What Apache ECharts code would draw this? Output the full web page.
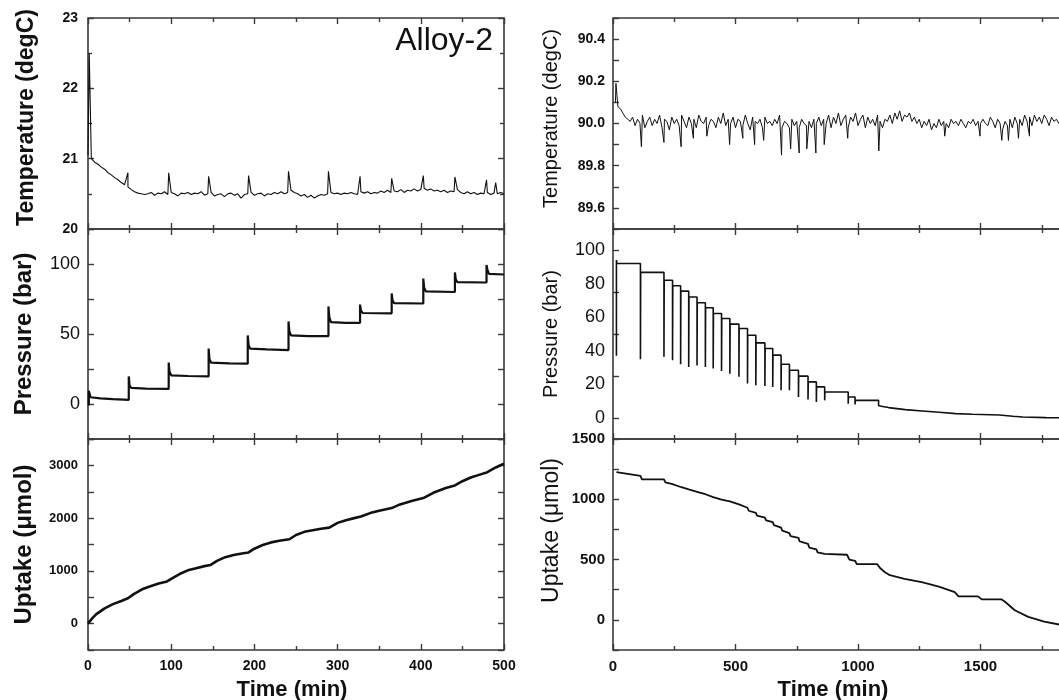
<!DOCTYPE html>
<html>
<head>
<meta charset="utf-8">
<script src="https://cdn.jsdelivr.net/npm/echarts@6/dist/echarts.min.js"></script>
<style>html,body{margin:0;padding:0;background:#fff}#c{width:1059px;height:700px}</style>
</head>
<body>
<div id="c"></div>
<script>
// ---------- DATA ----------
// Left (Alloy-2, absorption, 0-500 min)
const leftTempStep = 4; // min between samples
const leftTempValues = [
21.05,21.0,20.95,20.92,20.88,20.85,20.8,20.77,20.73,20.7,
20.66,20.63,20.6,20.56,20.53,20.51,20.5,20.49,20.5,20.52,
20.48,20.51,20.5,20.53,20.49,20.52,20.5,20.47,20.51,20.5,
20.52,20.49,20.51,20.5,20.53,20.48,20.5,20.52,20.47,20.49,
20.5,20.46,20.5,20.51,20.48,20.5,20.44,20.49,20.5,20.52,
20.48,20.5,20.51,20.47,20.5,20.49,20.52,20.5,20.53,20.5,
20.52,20.55,20.52,20.5,20.47,20.49,20.45,20.48,20.44,20.47,
20.49,20.48,20.5,20.52,20.5,20.51,20.49,20.51,20.5,20.52,
20.5,20.49,20.53,20.51,20.53,20.5,20.52,20.51,20.54,20.52,
20.55,20.52,20.54,20.53,20.56,20.52,20.55,20.54,20.57,20.54,
20.56,20.58,20.55,20.57,20.54,20.55,20.53,20.55,20.52,20.54,
20.53,20.56,20.52,20.5,20.53,20.5,20.52,20.49,20.51,20.5,
20.52,20.49,20.51,20.5,20.52,20.5
];
const leftTempSpikes = [[1.5,22.5],[48,20.8],[97,20.8],[145,20.75],[193,20.76],[241,20.82],[289,20.82],[327,20.75],[365,20.72],[403,20.76],[441,20.74],[479,20.7],[490,20.66]];
const leftPressure = [[1,-1],[1,9.5],[3,4.8],[15,4],[30,3.5],[49,3],[49,19.7],[50,13],[52,11.5],[70,11],[97,10.8],[97,29.6],[98,23],[100,20.5],[120,20],[145,19.8],[145,39.6],[146,32],[148,29.5],[170,29],[192,28.8],[192,49],[193,42],[195,39.5],[215,39],[241,38.5],[241,59],[242,52],[244,49],[265,48.5],[289,48.5],[289,69.7],[290,62],[292,58.5],[310,58],[327,58],[327,71],[328,67],[330,65],[365,64.8],[365,79],[366,74],[368,72],[403,71.8],[403,89.6],[404,83],[406,80.5],[441,80],[441,94],[442,89],[444,87],[479,86.8],[479,99.3],[480,96],[482,93],[500,92.5]];
const leftUptake = [[0,0],[5,100],[10,180],[20,290],[30,370],[40,430],[48,480],[55,560],[65,650],[75,710],[85,760],[95,800],[100,850],[110,940],[120,1010],[130,1050],[140,1090],[147,1110],[155,1190],[165,1260],[175,1300],[185,1330],[193,1350],[200,1420],[210,1490],[220,1540],[230,1570],[242,1600],[250,1680],[260,1740],[270,1770],[280,1800],[290,1820],[300,1910],[310,1960],[320,2000],[328,2030],[340,2100],[350,2140],[365,2190],[375,2260],[390,2330],[403,2380],[415,2480],[430,2570],[441,2620],[450,2700],[460,2770],[470,2820],[480,2870],[490,2960],[500,3030]];

// Right (desorption, 0-~1850 min)
const rightTempStart = 10, rightTempStep = 10;
const rightTempValues = [
90.10,90.08,90.07,90.05,90.03,90.02,90.01,90.03,89.99,90.02,
90.0,90.04,89.98,90.01,90.03,89.99,90.02,90.0,90.04,89.98,
90.02,90.01,89.97,90.03,90.0,90.02,89.99,90.04,90.01,89.98,
90.03,90.0,90.02,89.98,90.04,90.01,90.0,90.03,89.99,90.02,
90.01,89.98,90.03,90.0,90.05,89.99,90.02,90.0,90.03,89.98,
90.02,90.01,89.99,90.04,90.0,89.97,90.03,90.01,90.0,90.02,
89.98,90.03,90.0,90.01,89.99,90.02,90.0,90.04,89.98,90.01,
90.0,89.98,90.02,89.99,90.01,89.98,90.02,90.0,89.99,90.01,
89.98,90.02,90.0,90.03,89.99,90.02,90.0,90.04,89.98,90.03,
90.0,90.05,89.99,90.02,90.04,89.98,90.03,90.01,90.05,89.99,
90.02,90.04,89.98,90.03,90.0,90.02,89.99,90.04,90.01,89.98,
90.02,90.01,90.04,90.0,90.05,90.02,90.06,90.01,90.04,90.03,
90.05,90.01,90.03,90.0,90.02,89.98,90.01,89.99,90.02,89.97,
90.0,89.98,90.02,89.99,90.01,90.0,89.98,90.02,90.0,90.01,
89.99,90.02,90.0,89.98,90.01,90.0,90.02,89.99,90.01,90.0,
90.02,90.0,89.99,90.03,90.01,89.98,90.02,90.0,89.97,90.01,
89.99,90.02,89.98,90.03,90.0,90.02,89.99,90.04,90.01,90.03,
89.99,90.04,90.01,90.03,90.0,90.04,90.02,89.99,90.03,90.01,
90.02,90.0,90.03,90.01,90.02
];
const rightTempSpikes = [[12,90.19],[116,89.89],[208,89.91],[278,89.89],[328,89.93],[383,89.94],[476,89.9],[530,89.93],[578,89.9],[615,89.92],[688,89.85],[725,89.88],[760,89.86],[791,89.88],[828,89.86],[862,89.9],[958,89.93],[1085,89.87],[1354,89.94],[1498,89.94],[1587,89.92],[1614,89.92],[1655,89.93],[1700,89.94]];
const rightPressure = [[14,37],[14,94],[16,92],[112,92],[112,35],[113,86.7],[208,86.7],[208,36.4],[209,82],[243,82],[243,34.4],[244,78.7],[276,78.7],[276,32],[277,75.5],[309,75.5],[309,30.4],[310,72],[343,72],[343,31.2],[344,68.6],[377,68.6],[377,30.4],[378,65.6],[409,65.6],[409,29.4],[410,62.2],[443,62.2],[443,28],[444,59.2],[477,59.2],[477,26.4],[478,55.9],[514,55.9],[514,24.5],[515,53.3],[549,53.3],[549,20.5],[550,49.3],[583,49.3],[583,19.5],[584,44.7],[620,44.7],[620,19],[621,41.4],[652,41.4],[652,18.5],[653,37.4],[686,37.4],[686,16.5],[687,32],[720,32],[720,16.5],[721,28.4],[757,28.4],[757,12.5],[758,24.9],[796,24.9],[796,11],[797,21.5],[830,21.5],[830,9.5],[831,18.5],[864,18.5],[864,10.5],[865,15.5],[960,15.5],[960,8.5],[961,12.5],[988,12.5],[988,8],[989,10.5],[1084,10.5],[1084,7.5],[1095,7],[1125,6.2],[1193,5],[1262,4.2],[1331,3.4],[1399,2.6],[1468,2.2],[1577,1.8],[1632,1],[1673,0.6],[1767,0.2],[1850,0.1]];
const rightUptake = [[14,1225],[20,1215],[112,1195],[118,1165],[208,1165],[214,1140],[243,1125],[248,1112],[276,1102],[281,1092],[309,1082],[314,1070],[343,1062],[348,1050],[377,1042],[382,1030],[409,1018],[414,1005],[443,998],[448,988],[477,982],[482,970],[514,958],[519,945],[549,930],[554,905],[583,888],[588,865],[620,848],[625,825],[652,810],[657,785],[686,765],[691,740],[720,720],[725,695],[757,680],[762,650],[796,630],[801,600],[830,585],[835,560],[864,548],[870,543],[955,540],[965,500],[988,490],[995,462],[1079,462],[1090,430],[1110,395],[1130,370],[1190,340],[1260,312],[1330,275],[1395,230],[1410,195],[1490,195],[1505,170],[1585,170],[1600,150],[1640,80],[1695,25],[1760,-15],[1850,-50]];

// tick labels
const leftTempLabels = [20,21,22,23];
const leftPressureLabels = [0,50,100];
const leftUptakeLabels = [0,1000,2000,3000];
const leftTimeLabels = [0,100,200,300,400,500];
const rightTempLabels = [89.6,89.8,90.0,90.2,90.4];
const rightPressureLabels = [0,20,40,60,80,100];
const rightPressureTicks = [0,25,50,75,100];
const rightUptakeLabels = [0,500,1000,1500];
const rightTimeLabels = [0,500,1000,1500];

// ---------- helpers ----------
function sampled(start, step, values) { return values.map((v, i) => [start + i * step, v]); }
function mergeSpikes(base, spikes) {
  const all = spikes.map(p => [p[0], p[1], 0]).concat(base.map(p => [p[0], p[1], 1]));
  all.sort((a, b) => a[0] - b[0] || a[2] - b[2]);
  return all.map(p => [p[0], p[1]]);
}
const FONT = 'Liberation Sans, Arial, sans-serif';
const INK = '#111';
const FRAME = '#3a3a3a';

const L = { left: 88, width: 416 };
const R = { left: 613, width: 490 };
const rows = [ { top: 18, height: 211 }, { top: 229, height: 210 }, { top: 439, height: 211 } ];

const grids = [], xAxes = [], yAxes = [], series = [];

function inSet(set, v) { return set.some(s => Math.abs(s - v) < 1e-6); }

function addPanel(col, row, cfg) {
  const gi = grids.length;
  grids.push({ left: col.left, width: col.width, top: rows[row].top, height: rows[row].height,
    show: true, borderColor: FRAME, borderWidth: 1.6, backgroundColor: 'transparent',
    containLabel: false, outerBoundsMode: 'none' });
  const tickStyle = { inside: true, length: 6, lineStyle: { color: FRAME, width: 1.4 } };
  const minor = cfg.xMinor ? { show: true, splitNumber: cfg.xMinor, length: 4, lineStyle: { color: FRAME, width: 1.4 } } : { show: false };
  const xBase = { type: 'value', gridIndex: gi, min: cfg.xMin, max: cfg.xMax, interval: cfg.xInterval,
    axisLine: { show: false, onZero: false }, splitLine: { show: false }, minorSplitLine: { show: false },
    axisTick: tickStyle, minorTick: minor };
  const xb = xAxes.length;
  xAxes.push(Object.assign({}, xBase, { position: 'bottom',
    axisLabel: cfg.showX ? { show: true, margin: 9, color: INK, fontFamily: FONT, fontWeight: 'bold', fontSize: cfg.xFont,
      formatter: v => inSet(cfg.xLabels, v) ? String(v) : '' } : { show: false },
    name: cfg.showX ? 'Time (min)' : '', nameLocation: 'middle', nameGap: 29,
    nameTextStyle: { color: INK, fontFamily: FONT, fontWeight: 'bold', fontSize: 22, padding: cfg.namePad || 0 } }));
  xAxes.push(Object.assign({}, xBase, { position: 'top', axisLabel: { show: false } }));

  const yTick = Object.assign({}, tickStyle, cfg.yTickValues ? { customValues: cfg.yTickValues } : {});
  const yMinor = cfg.yMinor ? { show: true, splitNumber: cfg.yMinor, length: 4, lineStyle: { color: FRAME, width: 1.4 } } : { show: false };
  const yBase = { type: 'value', gridIndex: gi, min: cfg.yMin, max: cfg.yMax,
    axisLine: { show: false, onZero: false }, splitLine: { show: false }, minorSplitLine: { show: false },
    axisTick: yTick, minorTick: yMinor };
  if (cfg.yInterval) yBase.interval = cfg.yInterval;
  const yl = yAxes.length;
  const lab = { show: true, margin: cfg.yLabelMargin, color: INK, fontFamily: FONT, fontWeight: cfg.yLabelBold ? 'bold' : 'normal', fontSize: cfg.yLabelFont };
  if (cfg.yLabelCustom) { lab.customValues = cfg.yLabels; lab.formatter = cfg.yFmt || (v => String(v)); }
  else lab.formatter = v => inSet(cfg.yLabels, v) ? (cfg.yFmt ? cfg.yFmt(v) : String(v)) : '';
  yAxes.push(Object.assign({}, yBase, { position: 'left', axisLabel: lab,
    name: cfg.yName, nameLocation: 'middle', nameGap: cfg.yNameGap, nameRotate: 90,
    nameTextStyle: { color: INK, fontFamily: FONT, fontWeight: cfg.yNameBold ? 'bold' : 'normal', fontSize: cfg.yNameFont, padding: cfg.yNamePad || 0 } }));
  yAxes.push(Object.assign({}, yBase, { position: 'right', axisLabel: { show: false } }));

  series.push({ type: 'line', xAxisIndex: xb, yAxisIndex: yl, data: cfg.data, showSymbol: false, symbol: 'none',
    lineStyle: { color: INK, width: cfg.lw }, clip: true, animation: false, silent: true });
}

// Left column
addPanel(L, 0, { xMin: 0, xMax: 500, xInterval: 100, xMinor: 2, showX: false,
  yMin: 20, yMax: 23, yInterval: 1, yMinor: 2, yLabels: leftTempLabels, yLabelBold: true, yLabelFont: 14, yLabelMargin: 10,
  yName: 'Temperature (degC)', yNameBold: true, yNameFont: 23, yNameGap: 50, yNamePad: [0, 0, 0, 12],
  data: mergeSpikes(sampled(0, leftTempStep, leftTempValues), leftTempSpikes), lw: 1.1 });
addPanel(L, 1, { xMin: 0, xMax: 500, xInterval: 100, xMinor: 2, showX: false,
  yMin: -25, yMax: 125, yInterval: 25, yLabels: leftPressureLabels, yLabelBold: false, yLabelFont: 18, yLabelMargin: 8,
  yName: 'Pressure (bar)', yNameBold: true, yNameFont: 24, yNameGap: 52,
  data: leftPressure, lw: 2.2 });
addPanel(L, 2, { xMin: 0, xMax: 500, xInterval: 100, xMinor: 2, showX: true, xFont: 14, xLabels: leftTimeLabels, namePad: [0, 8, 0, 0],
  yMin: -500, yMax: 3500, yInterval: 500, yLabels: leftUptakeLabels, yLabelBold: true, yLabelFont: 13, yLabelMargin: 10,
  yName: 'Uptake (μmol)', yNameBold: true, yNameFont: 24, yNameGap: 52,
  data: leftUptake, lw: 2.6 });

// Right column
addPanel(R, 0, { xMin: 0, xMax: 2000, xInterval: 500, xMinor: 2, showX: false,
  yMin: 89.5, yMax: 90.5, yInterval: 0.1, yLabels: rightTempLabels, yLabelBold: true, yLabelFont: 14, yLabelMargin: 8,
  yFmt: v => v.toFixed(1),
  yName: 'Temperature (degC)', yNameBold: false, yNameFont: 20, yNameGap: 52, yNamePad: [0, 0, 0, 10],
  data: mergeSpikes(sampled(rightTempStart, rightTempStep, rightTempValues), rightTempSpikes), lw: 1 });
addPanel(R, 1, { xMin: 0, xMax: 2000, xInterval: 500, xMinor: 2, showX: false,
  yMin: -12.5, yMax: 112.5, yTickValues: rightPressureTicks, yLabels: rightPressureLabels, yLabelCustom: true,
  yLabelBold: false, yLabelFont: 18, yLabelMargin: 8,
  yName: 'Pressure (bar)', yNameBold: false, yNameFont: 20, yNameGap: 52,
  data: rightPressure, lw: 1.6 });
addPanel(R, 2, { xMin: 0, xMax: 2000, xInterval: 500, xMinor: 2, showX: true, xFont: 15, xLabels: rightTimeLabels, namePad: [0, 50, 0, 0],
  yMin: -250, yMax: 1500, yInterval: 250, yLabels: rightUptakeLabels, yLabelBold: true, yLabelFont: 15, yLabelMargin: 8,
  yName: 'Uptake (μmol)', yNameBold: false, yNameFont: 23, yNameGap: 50, yNamePad: [0, 0, 0, 28],
  data: rightUptake, lw: 1.8 });

const chart = echarts.init(document.getElementById('c'), null, { renderer: 'canvas' });
chart.setOption({
  backgroundColor: '#fff',
  animation: false,
  title: { text: 'Alloy-2', right: 561, top: 20, textStyle: { color: INK, fontFamily: FONT, fontWeight: 'normal', fontSize: 32 } },
  grid: grids, xAxis: xAxes, yAxis: yAxes, series: series
});
</script>
</body>
</html>
